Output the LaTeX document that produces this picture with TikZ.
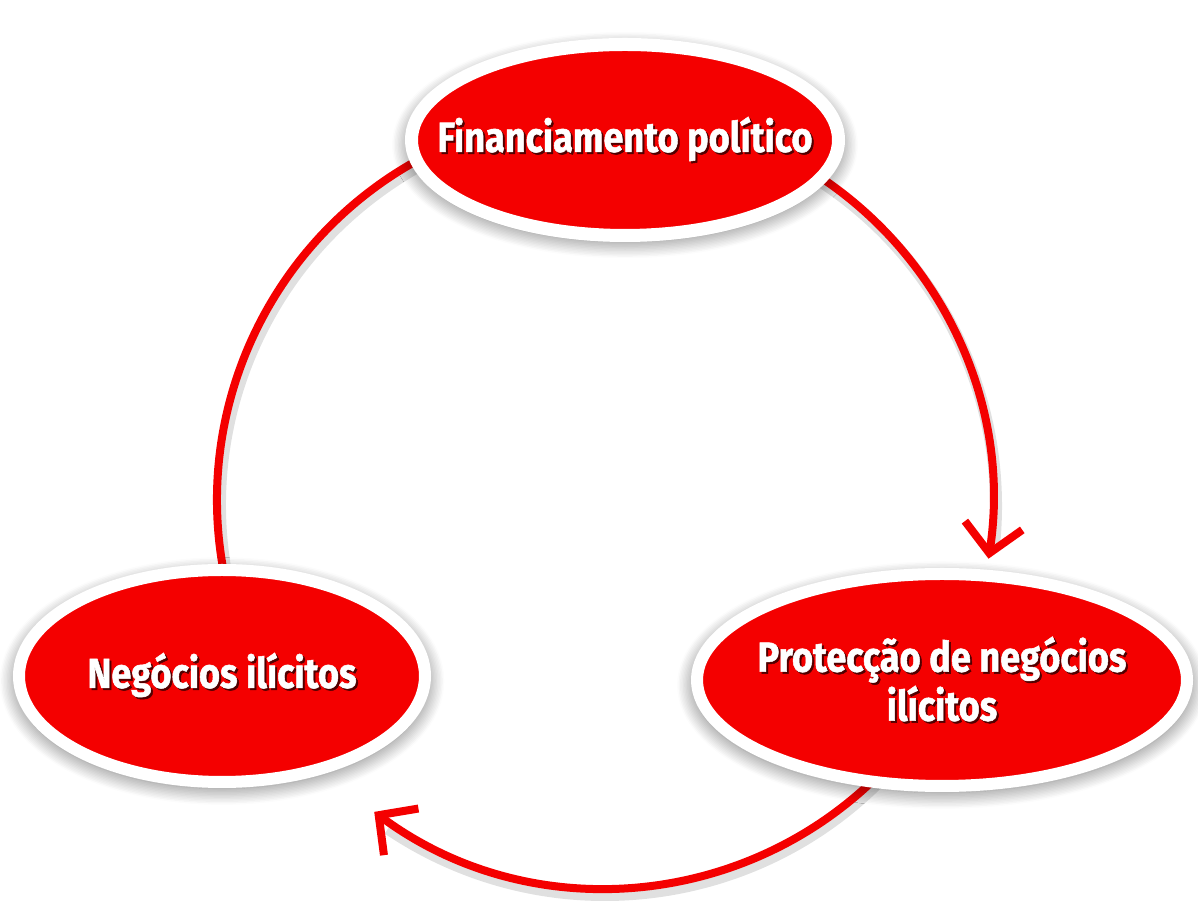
\documentclass[tikz,border=0pt]{standalone}
\usepackage{fontspec}
\usetikzlibrary{arrows.meta,shapes.geometric,shadows.blur}
\newfontfamily\lblfont[FakeStretch=0.86, BoldFeatures={FakeBold=1.2}]{Fira Sans}
\definecolor{myred}{RGB}{244,0,0}
\definecolor{txtshadow}{RGB}{80,0,0}
\newcommand\shtext[1]{\makebox[0pt]{\rlap{\kern2pt\raisebox{-2pt}{\textcolor{txtshadow}{#1}}}#1}}
\begin{document}
\begin{tikzpicture}[x=1pt,y=1pt,
  bubble/.style={ellipse, fill=myred, draw=white, text=white, align=center,
    font=\lblfont\bfseries\fontsize{42}{46}\selectfont, inner sep=0pt,
    blur shadow={shadow xshift=0pt, shadow yshift=-5pt, shadow scale=1.015, shadow blur radius=16pt, shadow blur steps=12, shadow opacity=55}},
  conn/.style={draw=myred, line width=8pt},
  connshadow/.style={draw=black!12, line width=12pt},
  tipped/.style={-{Straight Barb[length=28pt,width=58pt]}}]
\useasboundingbox (0,0) rectangle (1198,901);
\coordinate (c) at (605,401);
% connector shadows
\draw[connshadow] ([shift={(60:388)}]c) ++(3,-6) arc[start angle=60, end angle=-6, radius=388];
\draw[connshadow] ([shift={(-40:388)}]c) ++(0,-7) arc[start angle=-40, end angle=-124, radius=388];
\draw[connshadow] ([shift={(192:388)}]c) ++(3,-5) arc[start angle=192, end angle=112, radius=388];
% connectors
\draw[conn,tipped] ([shift={(60:388)}]c) arc[start angle=60, end angle=-8.7, radius=388];
\draw[conn,tipped] ([shift={(-40:388)}]c) arc[start angle=-40, end angle=-126.5, radius=388];
\draw[conn] ([shift={(192:388)}]c) arc[start angle=192, end angle=112, radius=388];
% nodes
\node[bubble, line width=13pt, minimum width=427pt, minimum height=191pt] (fin) at (625,761) {\shtext{Financiamento político}};
\node[bubble, line width=12pt, minimum width=406pt, minimum height=212pt] (neg) at (222,225) {\shtext{Negócios ilícitos}};
\node[bubble, line width=12pt, minimum width=490pt, minimum height=212pt] (prot) at (942,221) {\shtext{Protecção de negócios}\\\shtext{ilícitos}};
\end{tikzpicture}
\end{document}
